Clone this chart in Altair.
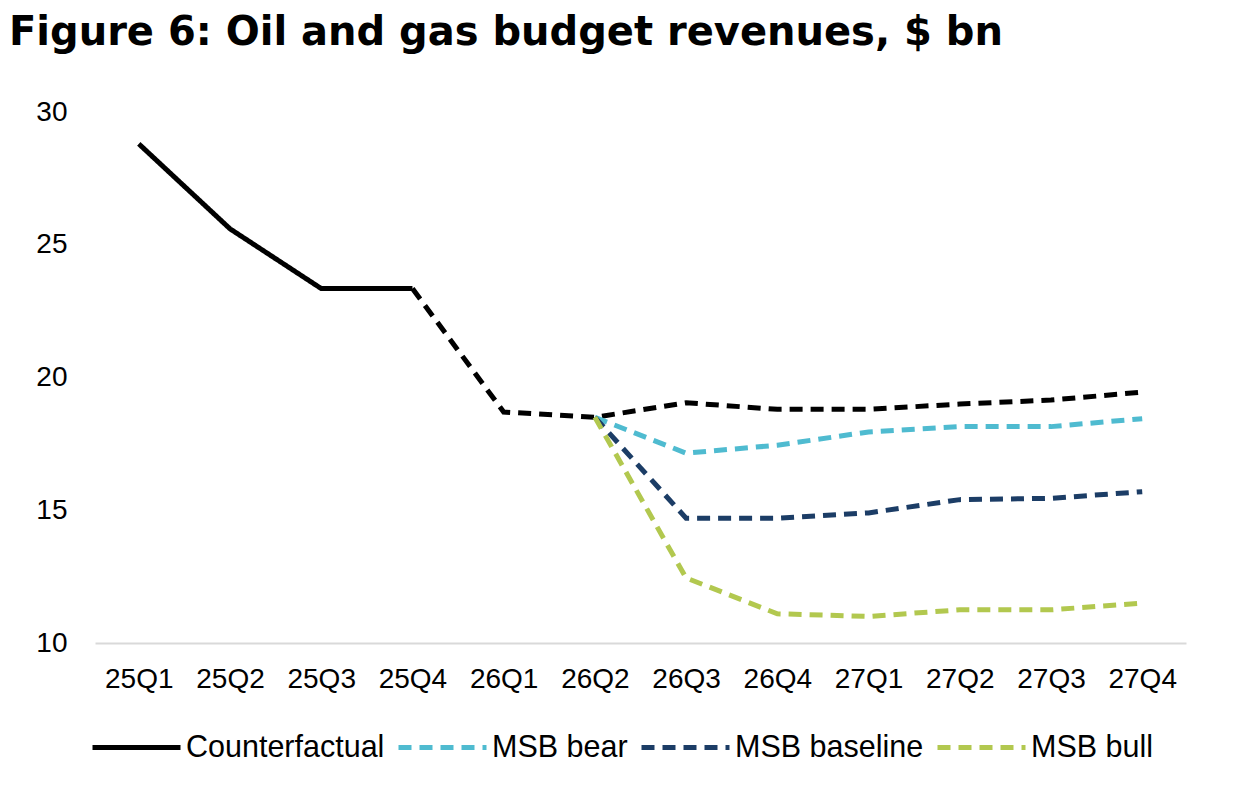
import altair as alt
import pandas as pd

quarters = ["25Q1", "25Q2", "25Q3", "25Q4", "26Q1", "26Q2",
            "26Q3", "26Q4", "27Q1", "27Q2", "27Q3", "27Q4"]
counterfactual = [28.8, 25.6, 23.35, 23.35, 18.7, 18.5, 19.05, 18.8, 18.8, 19.0, 19.15, 19.45]
n_actual = 4  # solid part: 25Q1..25Q4
scenario_quarters = quarters[5:]
msb_bear = [18.5, 17.15, 17.45, 17.95, 18.15, 18.15, 18.45]
msb_baseline = [18.5, 14.7, 14.7, 14.9, 15.4, 15.45, 15.7]
msb_bull = [18.5, 12.45, 11.1, 11.0, 11.25, 11.25, 11.5]

series_names = ["Counterfactual", "MSB bear", "MSB baseline", "MSB bull"]
series_colors = ["#000000", "#4FBBD0", "#1C3D66", "#B2C84F"]
y_ticks = [10, 15, 20, 25, 30]

solid = pd.DataFrame({
    "quarter": quarters[:n_actual],
    "value": counterfactual[:n_actual],
    "series": "Counterfactual",
})
dashed_parts = [
    pd.DataFrame({"quarter": quarters[n_actual - 1:], "value": counterfactual[n_actual - 1:], "series": "Counterfactual"}),
    pd.DataFrame({"quarter": scenario_quarters, "value": msb_bear, "series": "MSB bear"}),
    pd.DataFrame({"quarter": scenario_quarters, "value": msb_baseline, "series": "MSB baseline"}),
    pd.DataFrame({"quarter": scenario_quarters, "value": msb_bull, "series": "MSB bull"}),
]
dashed = pd.concat(dashed_parts, ignore_index=True)
dashed["order"] = dashed["series"].map({s: i for i, s in enumerate(series_names)})

FONT = "Liberation Sans"
DASH = [13, 8]

legend = alt.Legend(
    title=None, orient="none", direction="horizontal", legendX=-5, legendY=589,
    symbolType="stroke", symbolSize=7744, symbolStrokeWidth=5,
    labelFontSize=30.5, labelFont=FONT, labelColor="#000000", labelOffset=3,
    columnPadding=3, labelLimit=500,
)

x_enc = alt.X("quarter:N", sort=quarters,
              scale=alt.Scale(type="point", padding=0.48, domain=quarters),
              axis=alt.Axis(title=None, labelAngle=0, ticks=False, domainColor="#D9D9D9",
                            domainWidth=2, labelFontSize=28, labelFont=FONT,
                            labelColor="#000000", labelPadding=22, grid=False))
y_enc = alt.Y("value:Q",
              scale=alt.Scale(domain=[10, 30], nice=False, zero=False),
              axis=alt.Axis(title=None, values=y_ticks, ticks=False, domain=False, grid=False,
                            labelFontSize=28, labelFont=FONT, labelColor="#000000",
                            labelPadding=28))
color_enc = alt.Color("series:N", scale=alt.Scale(domain=series_names, range=series_colors),
                      legend=legend)

solid_layer = alt.Chart(solid).mark_line(strokeWidth=5).encode(
    x=x_enc, y=y_enc, color=color_enc,
    strokeDash=alt.StrokeDash("series:N",
                              scale=alt.Scale(domain=series_names,
                                              range=[[1, 0], DASH, DASH, DASH]),
                              legend=legend),
)

dashed_layer = alt.Chart(dashed).mark_line(strokeWidth=5, strokeDash=DASH).encode(
    x=x_enc, y=y_enc, color=color_enc, detail="series:N", order="order:Q",
)

chart = alt.layer(solid_layer, dashed_layer).properties(
    width=1091, height=531,
    autosize=alt.AutoSizeParams(type="none"),
    padding={"left": 87, "top": 104, "right": 40, "bottom": 151},
    title=alt.TitleParams(
        "Figure 6: Oil and gas budget revenues, $ bn",
        anchor="start", frame="group", dx=-86, offset=13, baseline="alphabetic",
        font="DejaVu Sans", fontSize=40, fontWeight="bold", color="#000000",
    ),
).configure_view(stroke=None)

chart.save("out.html", embed_options={"renderer": "svg", "actions": False})
